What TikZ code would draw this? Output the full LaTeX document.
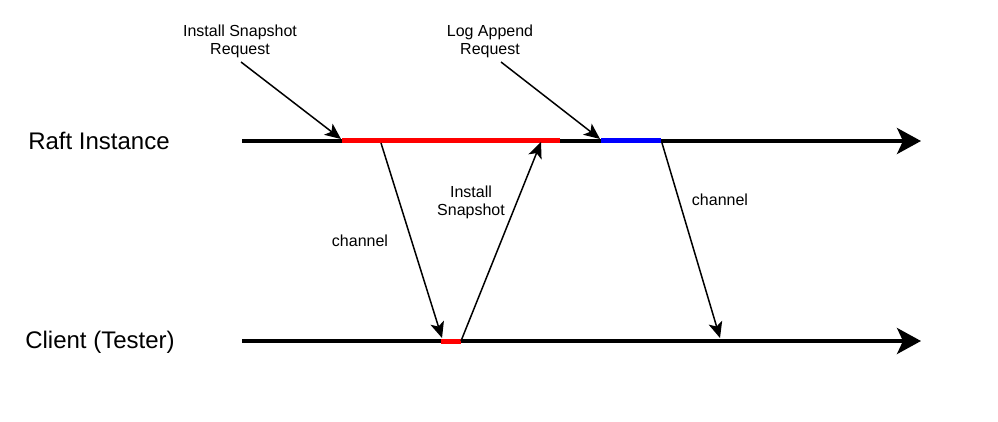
\documentclass[tikz,border=0pt]{standalone}
\usepackage{fontspec}
\setmainfont{Liberation Sans}
\usetikzlibrary{arrows.meta}
\begin{document}
\begin{tikzpicture}[x=1pt,y=-1pt,
  timeline/.style={line width=3.5pt,-{Stealth[length=24pt,width=26pt,inset=6pt]}},
  seg/.style={line width=5pt},
  msg/.style={line width=1.5pt,-{Stealth[length=16pt,width=14pt,inset=4pt]}},
  small/.style={font=\fontsize{16}{18}\selectfont,align=center},
  big/.style={font=\fontsize{24}{28}\selectfont}]
\useasboundingbox (0,0) rectangle (998,422);
% coordinates
\coordinate (r0) at (242,141);
\coordinate (r1) at (921,141);
\coordinate (c0) at (242,341);
\coordinate (c1) at (921,341);
\coordinate (ra) at (342,141);
\coordinate (rb) at (560,141);
\coordinate (ba) at (601,141);
\coordinate (bb) at (661,141);
\coordinate (ca) at (441,341);
\coordinate (cb) at (461,341);
% labels
\node[big] (lraft) at (99,141) {Raft Instance};
\node[big] (lclient) at (100,342) {Client (Tester)};
\node[small] (lisr) at (240,41) {Install Snapshot\\Request};
\node[small] (lla) at (490,41) {Log Append\\Request};
\node[small] (lch1) at (360,241) {channel};
\node[small] (lis) at (471,202) {Install\\Snapshot};
\node[small] (lch2) at (720,200) {channel};
% timelines
\draw[timeline] (r0) -- (r1);
\draw[timeline] (c0) -- (c1);
\draw[seg,red] (ra) -- (rb);
\draw[seg,blue] (ba) -- (bb);
\draw[seg,red] (ca) -- (cb);
% messages
\coordinate (s1) at (241,62);
\coordinate (s2) at (501,62);
\coordinate (t1) at (341,139);
\coordinate (t2) at (600,139);
\draw[msg] (s1) -- (t1);
\draw[msg] (s2) -- (t2);
\coordinate (m1) at (381,143);
\coordinate (e1) at (442,338);
\draw[msg] (m1) -- (e1);
\coordinate (e2) at (541,142);
\draw[msg] (cb) -- (e2);
\coordinate (m3) at (662,143);
\coordinate (e3) at (720,338);
\draw[msg] (m3) -- (e3);
\end{tikzpicture}
\end{document}
